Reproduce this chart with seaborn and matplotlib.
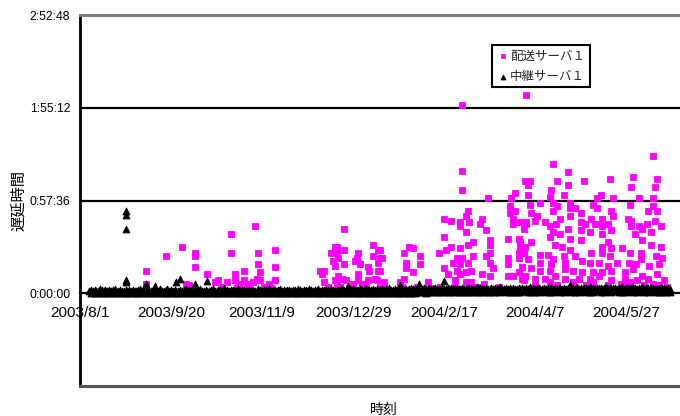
import numpy as np
import pandas as pd
import matplotlib
matplotlib.use("Agg")
import matplotlib.pyplot as plt
from matplotlib.font_manager import FontProperties
import seaborn as sns

START = pd.Timestamp("2003-08-01")

series_names = ["配送サーバ１", "中継サーバ１"]

# 配送サーバ１ : day offset from 2003/8/1, delay in minutes
disp_day = [
    36, 36, 47, 56, 58, 60, 63, 63, 63, 70, 74, 76, 81, 83, 83, 85, 85, 87, 88, 90,
    90, 92, 95, 96, 97, 98, 98, 99, 99, 104, 107, 107, 107,
    132, 133, 134, 134, 138, 139, 140, 140, 140, 141, 141, 141, 142, 142, 144, 145, 145,
    145, 146, 150, 151, 152, 153, 153, 153, 154, 155, 158, 158, 159, 161, 161, 162, 163, 164,
    164, 164, 166, 167, 167,
    165, 165, 165, 176, 178, 178, 179, 179, 181, 183, 183, 187, 187, 191, 197, 200, 200, 200,
    201, 202, 204, 204, 205, 206, 207, 207, 209, 209, 209, 209, 209, 210, 210, 210, 210, 212,
    212, 212, 212, 213, 213, 213, 214, 215, 215, 216, 216, 220, 221, 221, 222, 223, 223, 224,
    225, 225, 225, 225, 225, 227, 235, 235, 235, 235, 236, 236, 237, 238, 238, 238, 239, 239,
    241, 241, 241, 241, 242, 243, 244, 245, 245,
    315, 260, 268, 277, 291, 304, 303, 317, 316, 244.5, 247, 262, 246, 268, 246, 259, 266, 258,
    286, 284, 293, 307, 315, 253, 260, 269, 282, 284, 247, 302, 248, 262, 269, 272, 275, 292,
    315, 317, 312, 260, 251, 269, 293, 281, 287, 301, 303, 316, 250, 264, 242, 245, 255.5,
    261.5, 275, 277.5, 283, 287, 290, 303, 307, 309, 311.5, 319, 258, 268, 275, 280, 287, 292,
    305, 314, 260, 264, 258, 269, 275, 248, 242, 290, 287, 292, 298, 309, 314, 319, 261, 265,
    269, 244.5, 242, 244, 253, 257, 260, 266, 272, 281, 287, 291, 302, 308, 308, 316.5, 320,
    246, 253, 259, 266.5, 276, 280, 285, 290, 295, 301.6, 305.5, 312.6, 318, 243, 248, 253,
    258, 266.5, 271, 276, 282, 287, 292, 299.5, 304, 309, 317, 244.5, 250, 255.5, 261, 266.5,
    274, 280, 285, 292, 299.5, 306, 312, 244, 258, 271, 282, 297, 302, 315, 321, 322.5,
    78, 86, 93, 101, 105, 136, 143, 148, 157, 165, 177, 185, 193, 198, 206, 218, 230, 250,
    262, 278, 290, 300, 310, 318,
]
disp_min = [
    14, 6, 23, 29, 6, 5, 25, 23, 16, 12, 7, 8, 7, 36.5, 25, 12, 8, 6, 6, 14,
    8, 6, 7, 41.5, 9, 25, 18, 13, 8, 6, 27, 16, 8,
    14, 12, 14, 7, 25, 20, 29, 17, 8, 29, 25, 6, 22, 10.5, 9, 40, 27,
    18, 8, 6, 20, 22, 25, 12, 8, 18, 6, 16, 8, 14, 30, 23, 9, 8, 27,
    19, 14, 22, 7, 4,
    27, 22, 13.6, 7, 25, 9, 19, 15.5, 29, 28, 13, 23, 18, 7, 25, 46, 35, 15.5,
    27, 12, 45, 29, 19, 8, 22, 14, 44, 41.5, 28, 18, 12, 117, 76, 64, 22, 48,
    38, 13, 7, 51, 30, 19, 44, 14, 7, 32, 23, 43, 46, 12, 6, 39, 23, 59,
    33, 30, 25, 19, 10.5, 15.5, 34, 22, 18, 10.5, 54, 50, 59, 46, 43, 10.5, 62, 51,
    34, 25, 22, 13, 30, 9, 40, 43, 123,
    85, 80, 75, 70, 71, 72, 66, 71, 66, 70, 70, 70, 67.5, 67.5, 61, 64, 61, 60,
    61, 59, 59, 59, 59, 56, 56, 56, 55, 53, 55, 54.5, 50, 54, 53, 53, 50, 51,
    54, 51, 51, 51, 48, 48, 48, 46, 46, 46, 45, 45, 45, 46, 44, 44, 44,
    43, 44, 43, 43, 41.5, 43, 41.5, 41.5, 40, 43, 41.5, 41.5, 40, 39, 38, 37, 39,
    36.5, 38, 38, 36.5, 35, 34, 33, 32, 32, 32, 29, 28, 28, 33, 30, 29, 30, 29,
    27, 29, 27, 25, 24, 23.5, 21, 23, 23, 25, 25, 23, 25, 25, 21, 23, 22,
    21, 19, 18, 19, 20, 19, 19, 17, 19, 19, 18, 17, 18, 16, 15.5, 14,
    14, 15, 13.6, 13, 13, 13, 14, 13, 15, 10.5, 12, 10.5, 9, 9, 10.5, 9,
    9, 8.7, 10.5, 8, 9, 8, 8.7, 8, 7, 7, 7, 6, 7, 6, 8, 4,
    4, 3.5, 4, 4, 3.5, 4, 4, 3.5, 4, 4, 4, 4, 3.5, 4, 4, 4, 4, 5,
    5, 5, 5, 5, 5, 5,
]

# 中継サーバ１ : dense band near zero, lower edge read every 2 days, upper edge every day
relay_lo = [
    0.2, 0.0, 0.3, 0.1, 0.4, 0.2, 0.0, 0.3, 0.1, 0.2,
    0.0, 0.3, 0.2, 0.1, 0.4, 0.0, 0.2, 0.3, 0.1, 0.2,
    0.3, 0.1, 0.0, 0.2, 0.4, 0.1, 0.3, 0.0, 0.2, 0.1,
    0.2, 0.4, 0.0, 0.3, 0.1, 0.2, 0.0, 0.3, 0.2, 0.1,
    0.4, 0.2, 0.1, 0.3, 0.0, 0.2, 0.4, 0.1, 0.3, 0.2,
    0.1, 0.3, 0.0, 0.2, 0.4, 0.1, 0.2, 0.3, 0.0, 0.2,
    0.3, 0.1, 0.4, 0.2, 0.0, 0.3, 0.1, 0.2, 0.4, 0.1,
    0.2, 0.0, 0.3, 0.1, 0.2, 0.4, 0.0, 0.3, 0.1, 0.2,
    0.3, 0.2, 0.4, 0.1, 0.3, 0.2, 0.4, 0.3, 0.2, 0.4,
    0.5, 0.7, 0.4, 0.8, 0.6, 0.9, 0.7, 0.5, 0.8, 0.6,
    0.7, 0.5, 0.9, 0.6, 0.8, 1.0, 0.7, 0.9, 0.6, 0.8,
    1.0, 0.7, 0.9, 1.1, 0.8, 0.6, 1.0, 0.9, 0.7, 1.1,
    0.8, 1.0, 0.9, 0.7, 1.2, 0.9, 0.8, 1.0, 1.1, 0.7,
    0.9, 1.1, 0.8, 1.0, 0.7, 1.2, 0.9, 1.0, 0.8, 1.1,
    1.0, 0.8, 1.2, 0.9, 1.1, 0.7, 1.0, 0.9, 1.1, 0.8,
    0.9, 1.1, 1.0, 0.8, 1.2, 0.9, 1.0, 0.7, 0.9, 0.6,
]
relay_hi = [
    1.6, 1.9, 1.4, 2.1, 1.7, 1.5, 2.6, 1.8, 1.4, 1.9,
    1.7, 2.2, 1.5, 1.8, 2.9, 1.6, 1.4, 2.0, 1.7, 1.5,
    2.1, 1.6, 1.8, 1.4, 2.3, 1.7, 1.5, 1.9, 2.8, 1.6,
    1.8, 1.5, 2.0, 1.7, 1.4, 2.2, 1.6, 1.9, 1.5, 2.4,
    1.7, 1.4, 1.9, 2.7, 1.6, 1.8, 1.5, 2.1, 1.7, 1.4,
    2.0, 1.6, 1.8, 2.5, 1.5, 1.9, 1.7, 1.4, 2.2, 1.6,
    1.8, 2.9, 1.5, 1.7, 2.0, 1.6, 1.4, 1.9, 2.4, 1.7,
    1.5, 2.1, 1.8, 1.6, 3.0, 1.7, 1.9, 1.5, 2.2, 1.8,
    1.6, 1.9, 2.6, 1.5, 1.8, 2.0, 1.7, 1.4, 2.3, 1.6,
    2.0, 1.7, 1.5, 2.8, 1.9, 1.6, 2.1, 1.8, 1.5, 2.4,
    1.7, 1.9, 2.2, 1.6, 1.8, 2.7, 1.5, 2.0, 1.7, 1.9,
    2.3, 1.6, 1.8, 2.1, 1.5, 2.6, 1.9, 1.7, 2.2, 1.8,
    1.6, 2.4, 1.9, 1.7, 2.0, 1.8, 2.9, 1.6, 2.1, 1.9,
    1.8, 2.2, 1.7, 2.5, 1.9, 1.6, 2.3, 2.0, 1.8, 2.6,
    2.0, 1.7, 2.4, 1.9, 2.1, 2.8, 1.8, 2.2, 1.9, 2.5,
    2.1, 1.9, 2.6, 2.0, 2.3, 1.8, 2.7, 2.1, 2.4, 2.0,
    2.2, 2.8, 2.0, 2.4, 2.1, 3.0, 2.3, 2.0, 2.6, 2.2,
    2.4, 2.1, 2.7, 2.3, 2.9, 2.2, 2.5, 3.1, 2.4, 2.6,
    2.5, 2.9, 2.3, 2.7, 3.2, 2.6, 2.4, 3.0, 2.8, 2.5,
    3.1, 2.7, 2.5, 2.9, 3.4, 2.6, 2.8, 3.0, 2.5, 3.3,
    2.7, 3.1, 2.6, 2.9, 2.5, 3.5, 2.8, 2.6, 3.0, 2.7,
    3.2, 2.6, 2.9, 3.6, 2.7, 3.0, 2.5, 2.8, 3.3, 2.6,
    2.9, 3.4, 2.7, 3.0, 2.6, 3.1, 3.7, 2.8, 2.9, 3.2,
    2.6, 3.0, 2.8, 3.3, 2.7, 2.9, 3.5, 2.6, 3.1, 2.8,
    3.0, 2.7, 3.6, 2.9, 3.2, 2.6, 3.0, 3.4, 2.8, 2.7,
    3.3, 2.8, 3.0, 2.6, 3.7, 2.9, 3.1, 2.7, 3.4, 3.0,
    2.8, 3.2, 2.9, 3.5, 2.7, 3.0, 3.3, 2.8, 3.8, 2.9,
    3.1, 2.7, 3.4, 3.0, 2.8, 3.6, 2.9, 3.2, 2.7, 3.3,
    3.0, 3.5, 2.8, 3.1, 3.9, 2.9, 3.2, 2.7, 3.4, 3.0,
    2.9, 3.3, 3.0, 3.7, 2.8, 3.1, 3.5, 2.9, 3.2, 3.6,
    3.1, 2.8, 3.4, 3.0, 3.8, 2.9, 3.3, 3.1, 2.8, 3.5,
    3.0, 3.4, 2.9, 3.2, 3.7, 3.0, 3.3, 2.8, 3.1, 2.6,
]
relay_lo_days = (6, 324)
relay_hi_days = (5, 324)
spike_day = [25, 25, 25, 25, 25.5, 36, 41, 53, 55, 63, 70, 147, 176, 186, 200, 269]
spike_min = [50.8, 48.9, 39.6, 8.0, 6.8, 5.6, 4.5, 6.8, 8.7, 5.6, 7.4, 4.3, 5.0, 5.6, 7.4, 5.0]

x_tick_days = [0, 50, 100, 150, 200, 250, 300]
x_tick_labels = ["2003/8/1", "2003/9/20", "2003/11/9", "2003/12/29",
                 "2004/2/17", "2004/4/7", "2004/5/27"]
y_ticks = [0, 57.6, 115.2, 172.8]
y_tick_labels = ["0:00:00", "0:57:36", "1:55:12", "2:52:48"]
x_span_days = 350
y_min = -57.6

# ---------------------------------------------------------------
sns.set_theme(style="white")
plt.rcParams["font.family"] = ["Liberation Sans", "Noto Sans CJK JP", "DejaVu Sans"]

lo_days = np.linspace(relay_lo_days[0], relay_lo_days[1], len(relay_lo))
hi_days = np.linspace(relay_hi_days[0], relay_hi_days[1], len(relay_hi))
df_disp = pd.DataFrame({
    "time": START + pd.to_timedelta(disp_day, unit="D"),
    "delay": disp_min,
})
df_relay = pd.DataFrame({
    "time": START + pd.to_timedelta(np.concatenate([lo_days, hi_days, spike_day]), unit="D"),
    "delay": list(relay_lo) + list(relay_hi) + list(spike_min),
})

fig = plt.figure(figsize=(6.8, 4.16), dpi=100)
ax = fig.add_axes([80 / 680, 30 / 416, 637 / 680, 371 / 416])

sns.scatterplot(data=df_disp, x="time", y="delay", marker="s", color="#FF00FF",
                edgecolor="#FF00FF", linewidth=0.6, s=20, ax=ax, label=series_names[0],
                zorder=3)
sns.scatterplot(data=df_relay, x="time", y="delay", marker="^", color="black",
                edgecolor="black", linewidth=0.7, s=24, ax=ax, label=series_names[1],
                zorder=4)

ax.set_xlim(START, START + pd.Timedelta(days=x_span_days))
ax.set_ylim(y_min, y_ticks[-1])

ax.set_xticks([START + pd.Timedelta(days=d) for d in x_tick_days])
ax.set_xticklabels(x_tick_labels, fontfamily="DejaVu Sans", fontsize=8.6)
ax.set_yticks(y_ticks)
ax.set_yticklabels(y_tick_labels, fontsize=8.8)
ax.tick_params(axis="x", length=0, pad=9, colors="black")
ax.tick_params(axis="y", length=0, pad=7, colors="black")

ax.yaxis.grid(True, color="black", linewidth=1.6)
ax.xaxis.grid(False)
ax.set_axisbelow(True)

ax.spines["bottom"].set_position(("data", 0))
ax.spines["bottom"].set_color("black")
ax.spines["bottom"].set_linewidth(1.5)
ax.spines["bottom"].set_zorder(2)
ax.spines["left"].set_color("black")
ax.spines["left"].set_linewidth(2)
ax.spines["top"].set_color("#7f7f7f")
ax.spines["top"].set_linewidth(2.2)
ax.spines["right"].set_visible(False)
ax.plot([0, 1], [0, 0], transform=ax.transAxes, color="#555555", lw=2.2,
        clip_on=False, zorder=5)

ax.set_ylabel("遅延時間", fontfamily="Noto Sans CJK JP", fontsize=11, color="black")
ax.yaxis.set_label_coords(-0.083, 0.5)
ax.set_xlabel("時刻", fontfamily="Noto Sans CJK JP", fontsize=10, color="black")
ax.xaxis.set_label_coords((384 - 80) / 637, -0.046)

leg = ax.legend(loc="upper left", bbox_to_anchor=(0.647, 0.919), borderaxespad=0,
                frameon=True, fancybox=False, framealpha=1, edgecolor="black",
                prop=FontProperties(family="Noto Sans CJK JP", size=9),
                handletextpad=0.1, borderpad=0.35, labelspacing=0.6,
                handlelength=1.0, markerscale=0.7)
leg.get_frame().set_linewidth(1.5)

fig.savefig("out.png", dpi=100)
